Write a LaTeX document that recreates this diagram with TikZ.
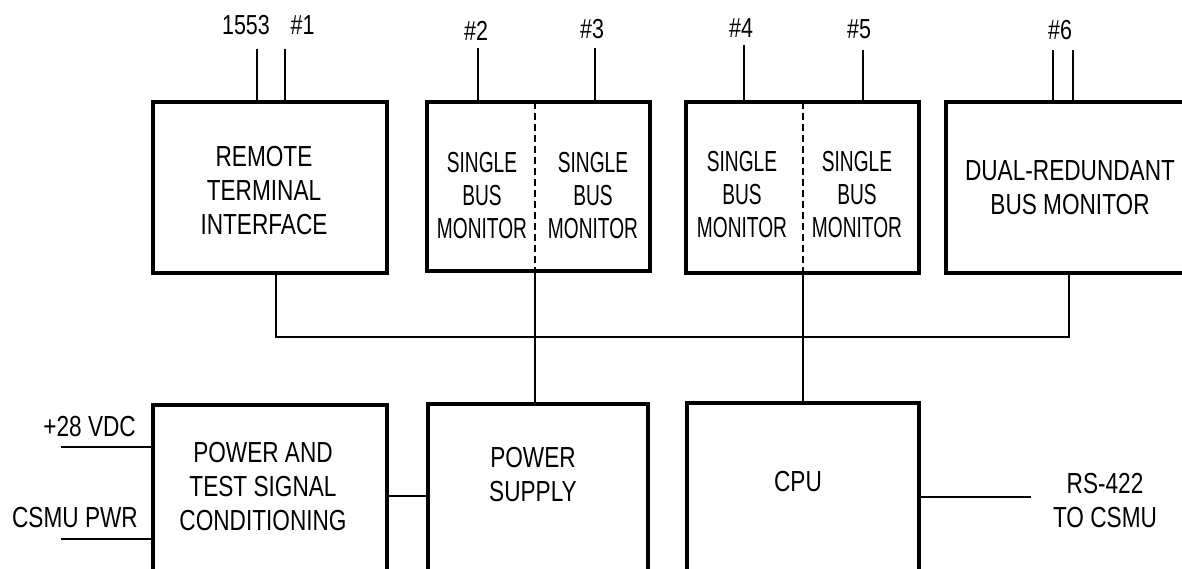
\documentclass[tikz,border=0pt]{standalone}
\usepackage{fontspec}
\setmainfont{Liberation Sans}[FakeStretch=0.78]
\newfontfamily\condfont{Liberation Sans}[FakeStretch=0.66]
\begin{document}
\begin{tikzpicture}[x=1pt,y=-1pt,
  box/.style={draw,line width=3.5pt,rectangle,inner sep=0pt},
  wire/.style={line width=1.4pt},
  divider/.style={line width=1.8pt,dash pattern=on 7pt off 4pt},
  txt/.style={inner sep=0pt,align=center,font=\fontsize{29}{34}\selectfont},
  ctxt/.style={inner sep=0pt,align=center,font=\condfont\fontsize{29}{33}\selectfont},
  lbl/.style={inner sep=0pt,font=\fontsize{27.5}{30}\selectfont}]
\useasboundingbox (0,0) rectangle (1182,569);
\fill[white] (0,0) rectangle (1182,569);

% boxes
\node[box,minimum width=234pt,minimum height=171pt] (rti) at (270,187.5) {};
\node[box,minimum width=223pt,minimum height=169pt] (sbma) at (538.5,186.5) {};
\node[box,minimum width=233pt,minimum height=171pt] (sbmb) at (802.5,187.5) {};
\node[box,minimum width=248pt,minimum height=171pt] (drbm) at (1070,187.5) {};
\node[box,minimum width=234pt,minimum height=195pt] (ptsc) at (270,502.5) {};
\node[box,minimum width=220pt,minimum height=196pt] (ps) at (538,502) {};
\node[box,minimum width=232pt,minimum height=197pt] (cpu) at (803,501.5) {};

% dividers
\coordinate (da) at (535,102);
\coordinate (db) at (803,102);
\draw[divider] (da) -- (da |- sbma.south);
\draw[divider] (db) -- (db |- sbmb.south);

% texts
\node[txt] (rtit) at (264,191) {REMOTE\\TERMINAL\\INTERFACE};
\node[ctxt] (sbmat1) at (482,196) {SINGLE\\BUS\\MONITOR};
\node[ctxt] (sbmat2) at (593,196) {SINGLE\\BUS\\MONITOR};
\node[ctxt] (sbmbt1) at (742,195) {SINGLE\\BUS\\MONITOR};
\node[ctxt] (sbmbt2) at (857,195) {SINGLE\\BUS\\MONITOR};
\node[txt] (drbmt) at (1070,188) {DUAL-REDUNDANT\\BUS MONITOR};
\node[txt] (ptsct) at (263,487) {POWER AND\\TEST SIGNAL\\CONDITIONING};
\node[txt] (pst) at (533,475) {POWER\\SUPPLY};
\node[txt] (cput) at (798,482) {CPU};
\node[txt] (rs) at (1105,501) {RS-422\\TO CSMU};
\node[txt,anchor=east] (vdc) at (136,427) {+28 VDC};
\node[txt,anchor=east] (csmu) at (138,518) {CSMU PWR};

% top labels
\node[lbl] (l1553) at (246,25) {1553};
\node[lbl] (l1) at (302.5,25) {\#1};
\node[lbl] (l2) at (476,31) {\#2};
\node[lbl] (l3) at (592,29) {\#3};
\node[lbl] (l4) at (741,28) {\#4};
\node[lbl] (l5) at (859,29) {\#5};
\node[lbl] (l6) at (1060,30) {\#6};

% bus stubs
\coordinate (s1) at (257,49);
\coordinate (s2) at (285,49);
\coordinate (s3) at (478,48);
\coordinate (s4) at (595,48);
\coordinate (s5) at (744,45);
\coordinate (s6) at (863,50);
\coordinate (s7) at (1053,50);
\coordinate (s8) at (1073,50);
\draw[wire] (s1) -- (s1 |- rti.north);
\draw[wire] (s2) -- (s2 |- rti.north);
\draw[wire] (s3) -- (s3 |- sbma.north);
\draw[wire] (s4) -- (s4 |- sbma.north);
\draw[wire] (s5) -- (s5 |- sbmb.north);
\draw[wire] (s6) -- (s6 |- sbmb.north);
\draw[wire] (s7) -- (s7 |- drbm.north);
\draw[wire] (s8) -- (s8 |- drbm.north);

% internal bus
\coordinate (b1) at (276,337);
\coordinate (b2) at (1069,337);
\draw[wire] (b1 |- rti.south) -- (b1) -- (b2) -- (b2 |- drbm.south);
\draw[wire] (da |- sbma.south) -- (da |- ps.north);
\draw[wire] (db |- sbmb.south) -- (db |- cpu.north);

% lower connections
\coordinate (p1) at (0,496);
\draw[wire] (ptsc.east |- p1) -- (ps.west |- p1);
\coordinate (i1) at (61,447);
\coordinate (i2) at (61,539);
\draw[wire] (i1) -- (i1 -| ptsc.west);
\draw[wire] (i2) -- (i2 -| ptsc.west);
\coordinate (o1) at (1031,497);
\draw[wire] (o1 -| cpu.east) -- (o1);
\end{tikzpicture}
\end{document}
